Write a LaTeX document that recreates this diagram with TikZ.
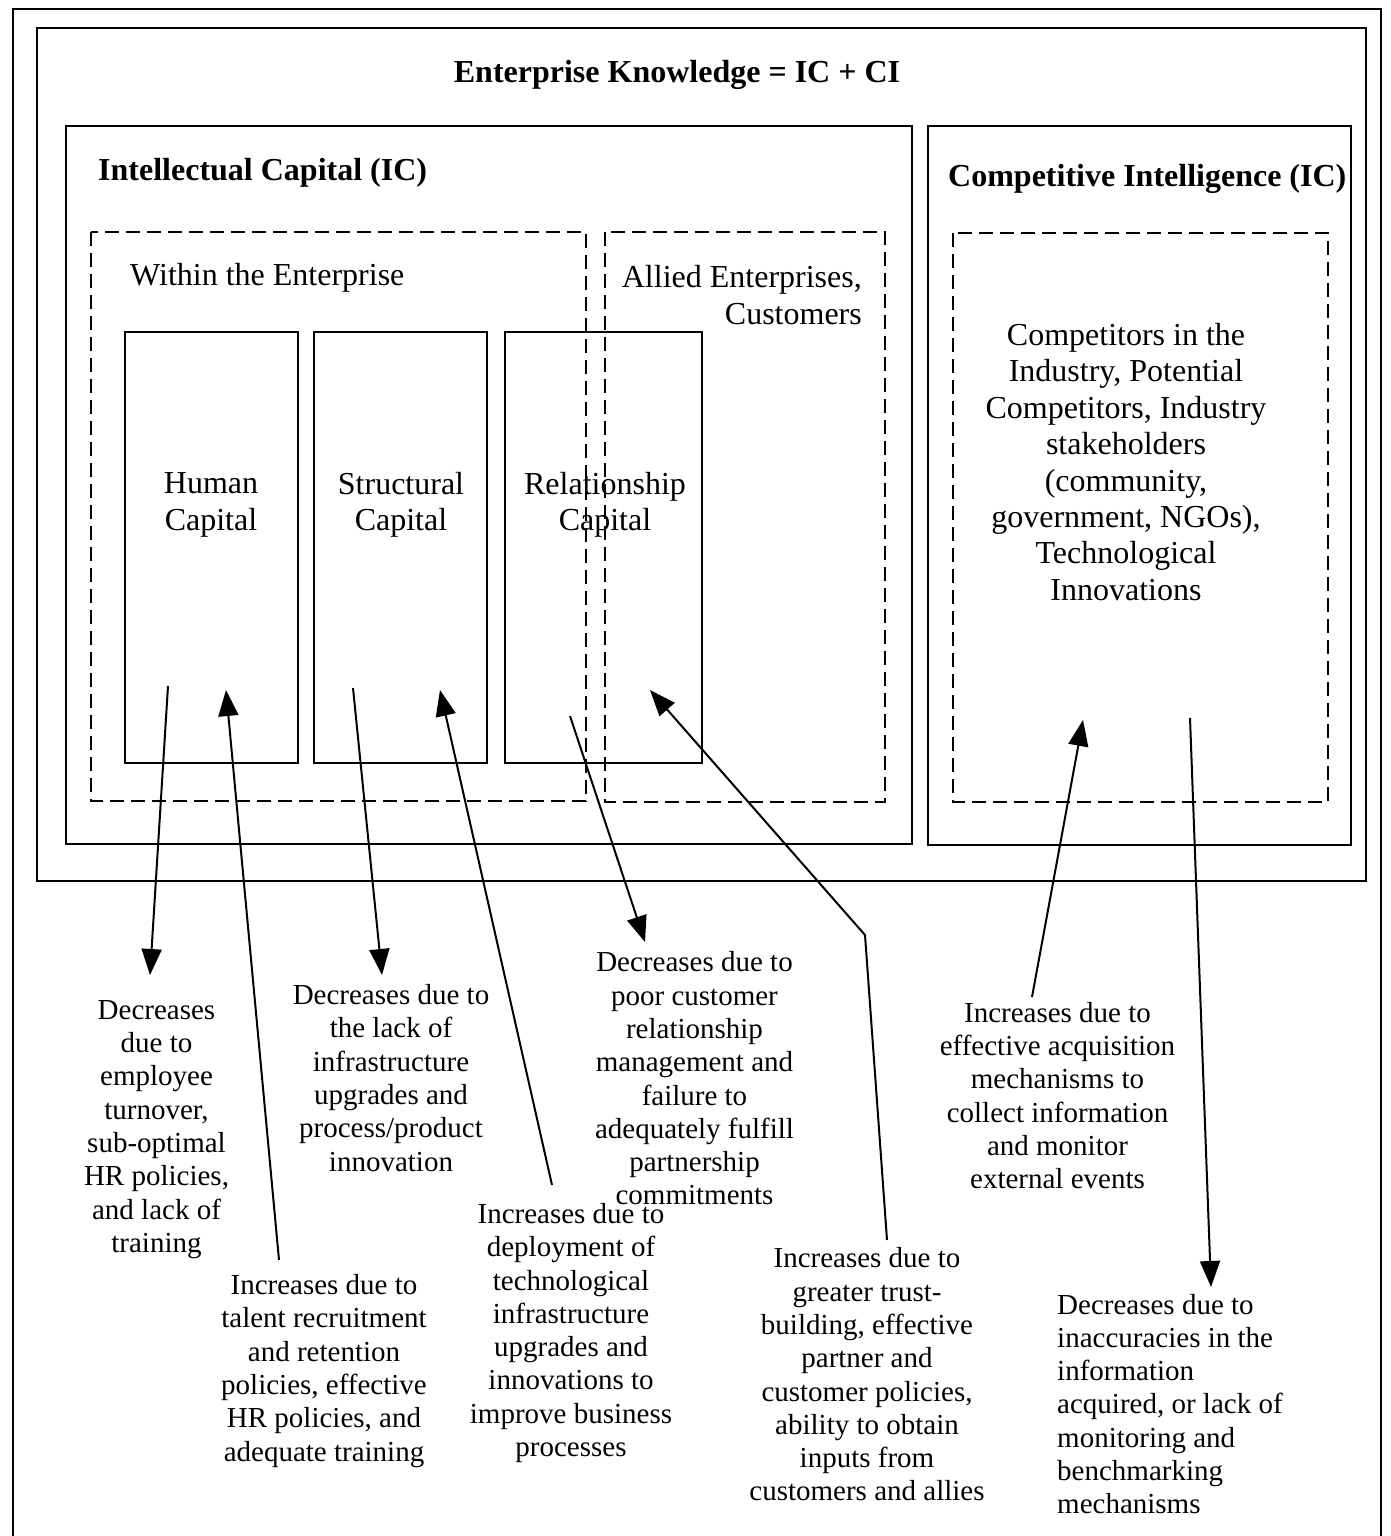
\documentclass[tikz,border=0pt]{standalone}
\usepackage{fontspec}
\setmainfont{Liberation Serif}
\usetikzlibrary{arrows.meta}
\begin{document}
\begin{tikzpicture}[x=1pt,y=-1pt,
  frame/.style={draw, line width=2pt},
  dbox/.style={draw, line width=2pt, dash pattern=on 14pt off 7pt},
  head/.style={font=\fontsize{32}{36.4}\selectfont\bfseries, inner sep=0pt},
  big/.style={font=\fontsize{32}{36.4}\selectfont, inner sep=0pt},
  note/.style={font=\fontsize{29}{33.3}\selectfont, align=center, inner sep=0pt},
  arr/.style={line width=2pt, -{Triangle[length=26pt,width=20pt]}}
]
\useasboundingbox (0,0) rectangle (1390,1536);

% frames
\draw[frame] (13,1536) -- (13,9) -- (1381,9) -- (1381,1536);
\draw[frame] (37,28) rectangle (1366,881);
\draw[frame] (66,126) rectangle (912,844);
\draw[frame] (928,126) rectangle (1351,845);

% dashed regions
\draw[dbox] (91,232) rectangle (586,801);
\draw[dbox] (605,232) rectangle (885,802);
\draw[dbox] (953,233) rectangle (1328,802);

% capital boxes
\draw[frame] (125,332) rectangle (298,763);
\draw[frame] (314,332) rectangle (487,763);
\draw[frame] (505,332) rectangle (702,763);

% headings
\node[head] (ek) at (677,75) {Enterprise Knowledge = IC + CI};
\node[head, anchor=west] (ic) at (98,173) {Intellectual Capital (IC)};
\node[head, anchor=west] (ci) at (948,179) {Competitive Intelligence (IC)};

% region labels
\node[big, anchor=west] (within) at (130,278) {Within the Enterprise};
\node[big, anchor=east, align=right] (allied) at (862,295) {Allied Enterprises,\\Customers};
\node[big, align=center] (human) at (211,505) {Human\\Capital};
\node[big, align=center] (structural) at (401,505) {Structural\\Capital};
\node[big, align=center] (relationship) at (605,505) {Relationship\\Capital};
\node[big, align=center] (competitors) at (1126,462) {Competitors in the\\Industry, Potential\\Competitors, Industry\\stakeholders\\(community,\\government, NGOs),\\Technological\\Innovations};

% effect notes
\node[note] (hdec) at (156.5,1129.5) {Decreases\\due to\\employee\\turnover,\\sub-optimal\\HR policies,\\and lack of\\training};
\node[note] (sdec) at (391,1078) {Decreases due to\\the lack of\\infrastructure\\upgrades and\\process/product\\innovation};
\node[note] (hinc) at (324,1371) {Increases due to\\talent recruitment\\and retention\\policies, effective\\HR policies, and\\adequate training};
\node[note] (rdec) at (694.5,1078.5) {Decreases due to\\poor customer\\relationship\\management and\\failure to\\adequately fulfill\\partnership\\commitments};
\node[note] (sinc) at (571,1333) {Increases due to\\deployment of\\technological\\infrastructure\\upgrades and\\innovations to\\improve business\\processes};
\node[note] (rinc) at (867,1374.5) {Increases due to\\greater trust-\\building, effective\\partner and\\customer policies,\\ability to obtain\\inputs from\\customers and allies};
\node[note] (cinc) at (1057.5,1095.5) {Increases due to\\effective acquisition\\mechanisms to\\collect information\\and monitor\\external events};
\node[note, align=left, anchor=west] (cdec) at (1057,1404) {Decreases due to\\inaccuracies in the\\information\\acquired, or lack of\\monitoring and\\benchmarking\\mechanisms};

% arrow end points
\coordinate (h1) at (168,686);   \coordinate (h1t) at (150,975);
\coordinate (h2) at (279,1260);  \coordinate (h2t) at (226,690);
\coordinate (s1) at (353,688);   \coordinate (s1t) at (382,975);
\coordinate (s2) at (552,1185);  \coordinate (s2t) at (440,690);
\coordinate (r1) at (570,716);   \coordinate (r1t) at (645,942);
\coordinate (r2) at (887,1240);  \coordinate (r2b) at (865,935); \coordinate (r2t) at (650,690);
\coordinate (c1) at (1032,997);  \coordinate (c1t) at (1083,720);
\coordinate (c2) at (1190,718);  \coordinate (c2t) at (1211,1287);

% arrows
\draw[arr] (h1) -- (h1t);
\draw[arr] (h2) -- (h2t);
\draw[arr] (s1) -- (s1t);
\draw[arr] (s2) -- (s2t);
\draw[arr] (r1) -- (r1t);
\draw[arr] (r2) -- (r2b) -- (r2t);
\draw[arr] (c1) -- (c1t);
\draw[arr] (c2) -- (c2t);
\end{tikzpicture}
\end{document}
